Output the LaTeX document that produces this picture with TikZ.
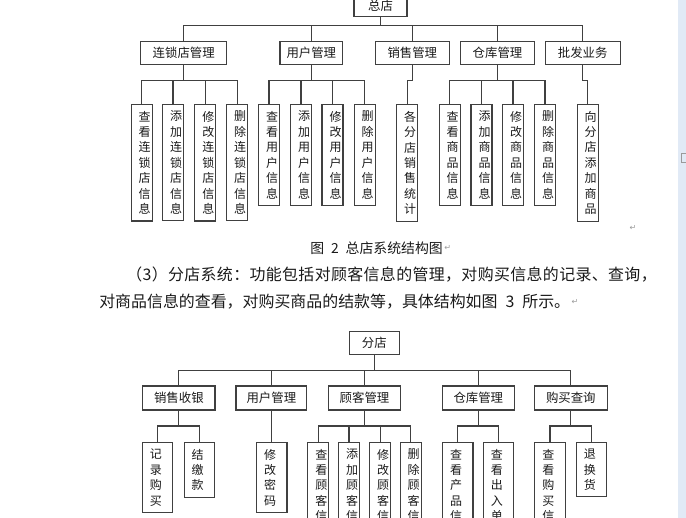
\documentclass[tikz,border=0pt]{standalone}
\usepackage{fontspec}
\setmainfont{Noto Sans CJK SC}
\newfontfamily\symfont{DejaVu Sans}
\usetikzlibrary{positioning}
\newdimen\pix \pix=0.75pt
\definecolor{linegray}{HTML}{404040}
\definecolor{textblack}{HTML}{1A1A1A}
\definecolor{barblue}{HTML}{E1EAF6}
\definecolor{markgray}{HTML}{9A9A9A}

\begin{document}
\begin{tikzpicture}[
  x=0.75pt, y=-0.75pt,
  font=\fontsize{9.3pt}{11.6pt}\selectfont,
  box/.style={rectangle,draw=linegray,line width=1.1\pix,inner sep=0pt,minimum height=22.6\pix,text=textblack},
  leaf/.style={rectangle,draw=linegray,line width=1.1\pix,anchor=north,align=left,inner xsep=7.5\pix,inner ysep=6.4\pix,font=\fontsize{9pt}{11.6pt}\selectfont,text=textblack},
  narrowleaf/.style={leaf,text width=4.5pt},
  wideleaf/.style={leaf,text width=11.6pt},
  link/.style={draw=linegray,line width=1.1\pix},
  retmark/.style={font=\symfont\fontsize{6pt}{6pt}\selectfont,text=markgray,inner sep=0pt},
  para/.style={anchor=west,inner sep=0pt,text=textblack,font=\fontsize{11.95pt}{14pt}\selectfont},
]
\useasboundingbox (0,0) rectangle (686,518);
% scroll strip at the right edge
\fill[barblue] (678,0) rectangle (686,518);
\draw[markgray,line width=1\pix] (681.5,153.5) rectangle (690,162);

% Figure 2: head office, top level
\node[box,minimum width=53\pix] (zd) at (380.5,5.3) {总店};
\node[box,minimum width=86\pix]   (lsd)  at (183.7,53) {连锁店管理};
\node[box,minimum width=62.7\pix] (yhgl) at (311.3,53) {用户管理};
\node[box,minimum width=74\pix]   (xsgl) at (412.3,53) {销售管理};
\node[box,minimum width=74.4\pix] (ckgl) at (497.5,53) {仓库管理};
\node[box,minimum width=74.7\pix] (pfyw) at (582.7,53) {批发业务};

% Figure 2: leaves
\node[narrowleaf] (lsd1) at (141.7,104) {查\\看\\连\\锁\\店\\信\\息};
\node[narrowleaf] (lsd2) at (173,104)   {添\\加\\连\\锁\\店\\信\\息};
\node[narrowleaf] (lsd3) at (205.3,104) {修\\改\\连\\锁\\店\\信\\息};
\node[narrowleaf] (lsd4) at (237.2,104) {删\\除\\连\\锁\\店\\信\\息};
\node[narrowleaf] (yh1) at (269,104)   {查\\看\\用\\户\\信\\息};
\node[narrowleaf] (yh2) at (301,104)   {添\\加\\用\\户\\信\\息};
\node[narrowleaf] (yh3) at (332.5,104) {修\\改\\用\\户\\信\\息};
\node[narrowleaf] (yh4) at (364.7,104) {删\\除\\用\\户\\信\\息};
\node[narrowleaf] (xs1) at (407.2,104) {各\\分\\店\\销\\售\\统\\计};
\node[narrowleaf] (ck1) at (449.7,104) {查\\看\\商\\品\\信\\息};
\node[narrowleaf] (ck2) at (481.5,104) {添\\加\\商\\品\\信\\息};
\node[narrowleaf] (ck3) at (513,104)   {修\\改\\商\\品\\信\\息};
\node[narrowleaf] (ck4) at (545,104)   {删\\除\\商\\品\\信\\息};
\node[narrowleaf] (pf1) at (587.7,104) {向\\分\\店\\添\\加\\商\\品};

% Figure 2: connectors
\coordinate (busA) at (0,25.7);
\coordinate (busB) at (0,80.3);
\foreach \c in {lsd,yhgl,xsgl,ckgl,pfyw}
  \draw[link] (zd.south) |- (\c.north |- busA) -- (\c.north);
\foreach \p/\c in {lsd/lsd1,lsd/lsd2,lsd/lsd3,lsd/lsd4,yhgl/yh1,yhgl/yh2,yhgl/yh3,yhgl/yh4,
                   xsgl/xs1,ckgl/ck1,ckgl/ck2,ckgl/ck3,ckgl/ck4,pfyw/pf1}
  \draw[link] (\p.south) |- (\c.north |- busB) -- (\c.north);
\node[retmark] (ret1) at (633,228) {↵};

% caption and paragraph
\node[para,font=\fontsize{10.4pt}{12pt}\selectfont] (cap) at (310,248) {图\hspace{0.5em}2\hspace{0.5em}总店系统结构图};
\node[retmark,right=1\pix of cap] (ret2) {↵};
\node[para] (line1) at (126,275) {\addfontfeature{LetterSpace=2.3}（3）分店系统：功能包括对顾客信息的管理，对购买信息的记录、查询，};
\node[para] (line2) at (99,302) {对商品信息的查看，对购买商品的结款等，具体结构如图\hspace{0.5em}3\hspace{0.5em}所示。};
\node[retmark,right=1\pix of line2] (ret3) {↵};

% Figure 3: branch store, top level
\node[box,minimum width=50\pix,minimum height=23.3\pix] (fd) at (374.3,342.7) {分店};
\node[box,minimum width=72.3\pix,minimum height=24\pix] (sysy)  at (178.85,398) {销售收银};
\node[box,minimum width=70.7\pix,minimum height=24\pix] (yhgl2) at (271.35,398) {用户管理};
\node[box,minimum width=71.6\pix,minimum height=24\pix] (gkgl)  at (364.5,398)  {顾客管理};
\node[box,minimum width=72\pix,minimum height=24\pix]   (ckgl2) at (478.3,398)  {仓库管理};
\node[box,minimum width=73\pix,minimum height=24\pix]   (gmcx)  at (570.8,398)  {购买查询};

% Figure 3: leaves
\node[wideleaf] (sy1) at (157.5,442) {记\\录\\购\\买};
\node[wideleaf] (sy2) at (199.3,442) {结\\缴\\款};
\node[wideleaf] (mm1) at (271.8,442) {修\\改\\密\\码};
\node[narrowleaf] (gk1) at (318.3,442) {查\\看\\顾\\客\\信\\息};
\node[narrowleaf] (gk2) at (349,442)   {添\\加\\顾\\客\\信\\息};
\node[narrowleaf] (gk3) at (380.2,442) {修\\改\\顾\\客\\信\\息};
\node[narrowleaf] (gk4) at (410.7,442) {删\\除\\顾\\客\\信\\息};
\node[wideleaf] (kc1) at (457.8,442) {查\\看\\产\\品\\信\\息};
\node[wideleaf] (kc2) at (498.5,442) {查\\看\\出\\入\\单};
\node[wideleaf] (gm1) at (550,442)   {查\\看\\购\\买\\信\\息};
\node[wideleaf] (gm2) at (591.5,442) {退\\换\\货};

% Figure 3: connectors
\coordinate (busC) at (0,370.7);
\coordinate (busD) at (0,426);
\foreach \c in {sysy,yhgl2,gkgl,ckgl2,gmcx}
  \draw[link] (fd.south) |- (\c.north |- busC) -- (\c.north);
\foreach \p/\c in {sysy/sy1,sysy/sy2,yhgl2/mm1,gkgl/gk1,gkgl/gk2,gkgl/gk3,gkgl/gk4,
                   ckgl2/kc1,ckgl2/kc2,gmcx/gm1,gmcx/gm2}
  \draw[link] (\p.south) |- (\c.north |- busD) -- (\c.north);
\end{tikzpicture}
\end{document}
